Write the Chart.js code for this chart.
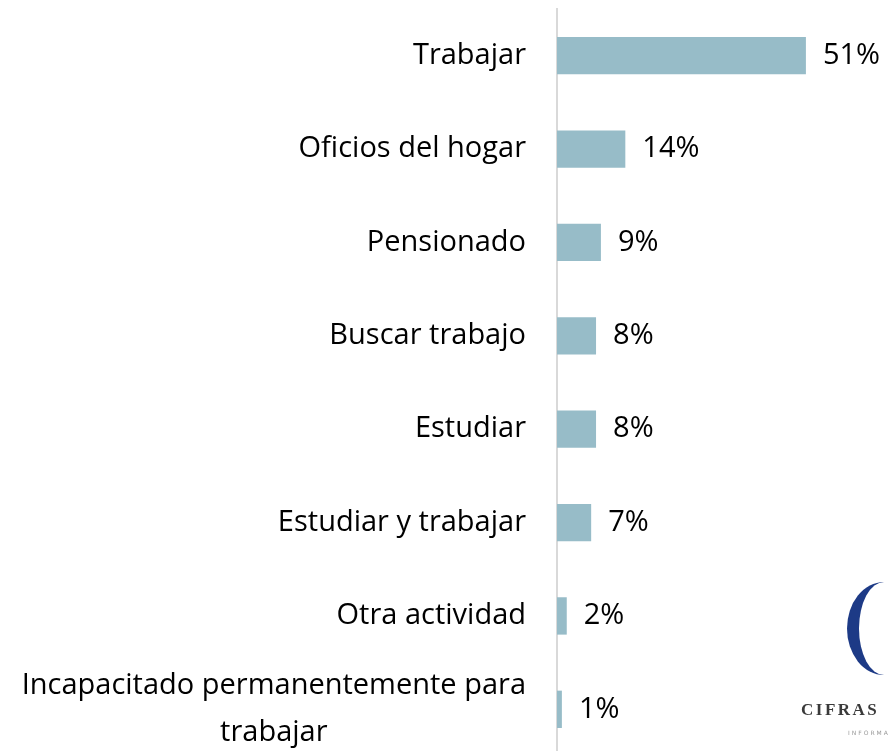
<!DOCTYPE html>
<html>
<head>
<meta charset="utf-8">
<script src="https://cdn.jsdelivr.net/npm/chart.js@4"></script>
<style>
  html, body { margin: 0; padding: 0; background: #fff; overflow: hidden; }
  #wrap { position: relative; width: 888px; height: 751px; overflow: hidden; }
  #logo-c {
    position: absolute; left: 847px; top: 582px; width: 74px; height: 93px;
    border-radius: 50%; border-left: 12px solid #1d3a86; box-sizing: border-box;
  }
  #logo-t {
    position: absolute; left: 801px; top: 700px; font-family: "Liberation Serif", serif;
    font-weight: bold; font-size: 17px; letter-spacing: 2.5px; color: #3a3a3a;
  }
  #logo-s {
    position: absolute; left: 848px; top: 729px; font-family: "DejaVu Sans", sans-serif;
    font-size: 6px; letter-spacing: 2px; color: #999;
  }
</style>
</head>
<body>
<div id="wrap">
  <canvas id="myChart" width="888" height="756"></canvas>
  <div id="logo-c"></div>
  <div id="logo-t">CIFRAS</div>
  <div id="logo-s">INFORMACIÓN</div>
</div>
<script>
let categories = [
    'Trabajar',
    'Oficios del hogar',
    'Pensionado',
    'Buscar trabajo',
    'Estudiar',
    'Estudiar y trabajar',
    'Otra actividad',
    ['Incapacitado permanentemente para', 'trabajar']
];
let percentages = [51, 14, 9, 8, 8, 7, 2, 1];

let ctx = document.getElementById('myChart').getContext('2d');
let fontName = '"Open Sans", sans-serif';
let fontSize = 29;

// draws the category names and the value labels
let labelPlugin = {
    id: 'labelPlugin',
    afterDatasetsDraw: (chart) => {
        let c = chart.ctx;
        let yScale = chart.scales.y;
        let meta = chart.getDatasetMeta(0);
        c.save();
        c.font = fontSize + 'px ' + fontName;
        c.fillStyle = '#000';
        c.textBaseline = 'middle';
        categories.forEach((cat, i) => {
            let y = yScale.getPixelForTick(i);
            let x = chart.chartArea.left - 31;
            if (Array.isArray(cat)) {
                let widest = Math.max(...cat.map(s => c.measureText(s).width));
                let lineH = 47;
                c.textAlign = 'center';
                cat.forEach((s, j) => {
                    c.fillText(s, x - widest / 2, y + (j - (cat.length - 1) / 2) * lineH);
                });
            } else {
                c.textAlign = 'right';
                c.fillText(cat, x, y);
            }
            let bar = meta.data[i];
            c.textAlign = 'left';
            c.fillText(percentages[i] + '%', bar.x + 17, bar.y);
        });
        c.restore();
    }
};

let myChart = new Chart(ctx, {
    type: 'bar',
    data: {
        labels: categories,
        datasets: [{
            data: percentages,
            backgroundColor: '#97bcc8',
            borderWidth: 0,
            barPercentage: 0.4,
            categoryPercentage: 1
        }]
    },
    options: {
        indexAxis: 'y',
        responsive: false,
        animation: false,
        layout: {
            padding: { left: 557, right: 4, top: 9, bottom: 0 }
        },
        plugins: {
            legend: { display: false },
            tooltip: { enabled: false }
        },
        scales: {
            x: {
                display: false,
                min: 0,
                max: 67
            },
            y: {
                grid: { display: false, drawTicks: false },
                border: { display: true, color: '#d9d9d9', width: 2 },
                ticks: { display: false }
            }
        }
    },
    plugins: [labelPlugin]
});
</script>
</body>
</html>
